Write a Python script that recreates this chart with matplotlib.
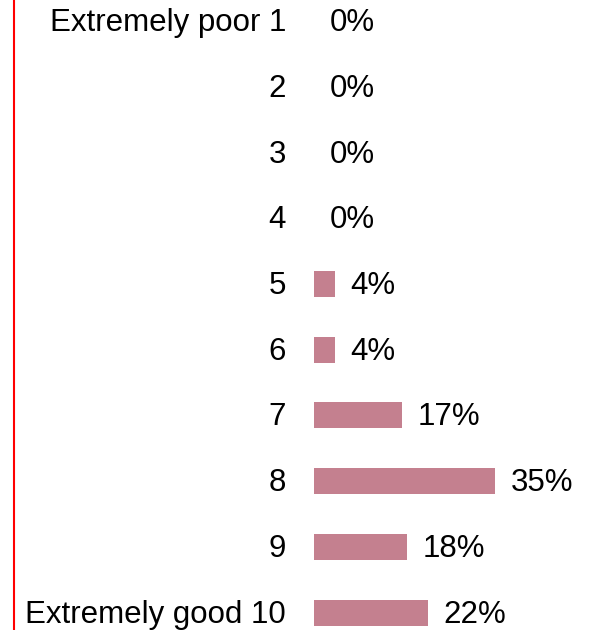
import matplotlib
matplotlib.use('Agg')
import matplotlib.pyplot as plt
from matplotlib.lines import Line2D

categories = ['Extremely poor 1', '2', '3', '4', '5', '6', '7', '8', '9', 'Extremely good 10']
shares = [0, 0, 0, 0, 4, 4, 17, 35, 18, 22]

plt.rcParams['font.family'] = ['Liberation Sans', 'DejaVu Sans']

W, H = 592, 630
fig = plt.figure(figsize=(W / 100, H / 100), dpi=100)

# axes start where the bars begin and run to the right edge
x0 = 314
px_per_pct = 5.17
ax = fig.add_axes([x0 / W, 0, (W - x0) / W, 1])
ax.set_xlim(0, (W - x0) / px_per_pct)

row_step = 65.7
top_center = 21.2
ax.set_ylim((H - top_center) / row_step, -top_center / row_step)

ys = list(range(len(categories)))
ax.barh(ys, shares, height=26 / row_step, color='#C4808F', edgecolor='none')

fs = 22.5
for y, cat, v in zip(ys, categories, shares):
    ax.annotate(cat, xy=(0, y), xytext=(-28, -2), textcoords='offset pixels',
                ha='right', va='center', fontsize=fs, color='black',
                annotation_clip=False)
    ax.annotate(f'{v}%', xy=(v, y), xytext=(16, -2), textcoords='offset pixels',
                ha='left', va='center', fontsize=fs, color='black',
                annotation_clip=False)

ax.axis('off')

fig.add_artist(Line2D([13.5 / W, 13.5 / W], [0, 1], color='#FF0000', linewidth=1.5))

fig.savefig('out.png', dpi=100)
